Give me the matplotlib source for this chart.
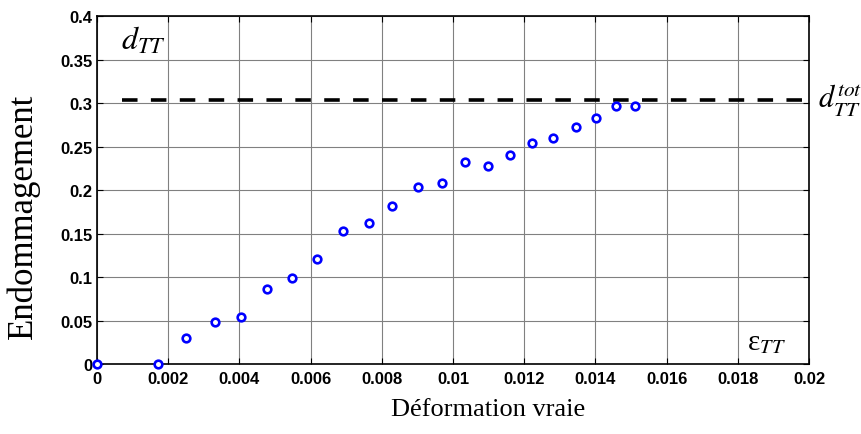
import matplotlib
matplotlib.use("Agg")
import matplotlib.pyplot as plt
from matplotlib.ticker import FuncFormatter

# Data
strain = [0.0, 0.00171, 0.0025, 0.0033, 0.00404, 0.00478, 0.00548, 0.00618,
          0.00692, 0.00764, 0.0083, 0.00902, 0.00968, 0.01033, 0.01097,
          0.01161, 0.01222, 0.01282, 0.01345, 0.01402, 0.01459, 0.0151]
damage = [0.0, 0.0, 0.030, 0.0487, 0.0544, 0.0862, 0.0992, 0.1203,
          0.1533, 0.1625, 0.1812, 0.2031, 0.2080, 0.2318, 0.2276,
          0.2406, 0.2536, 0.2601, 0.2724, 0.2831, 0.2961, 0.2961]
d_tot = 0.3034
d_tot_x = [0.0007, 0.02]
x_ticks = [0, 0.002, 0.004, 0.006, 0.008, 0.01, 0.012, 0.014, 0.016, 0.018, 0.02]
y_ticks = [0, 0.05, 0.1, 0.15, 0.2, 0.25, 0.3, 0.35, 0.4]

plt.rcParams['mathtext.fontset'] = 'stix'

fig = plt.figure(figsize=(8.61, 4.35), dpi=100)
ax = fig.add_axes([0.1127, 0.1609, 0.9396 - 0.1127, 0.9609 - 0.1609])

ax.plot(d_tot_x, [d_tot, d_tot], color='black', lw=2.6, dashes=(4.3, 3.7),
        zorder=3, clip_on=False)
ax.plot(strain, damage, linestyle='none', marker='o', markersize=5.5,
        markerfacecolor='white', markeredgecolor='#0000ff', markeredgewidth=1.9,
        zorder=4, clip_on=False)

ax.set_xlim(0, 0.02)
ax.set_ylim(0, 0.4)
ax.set_xticks(x_ticks)
ax.set_yticks(y_ticks)
fmt = FuncFormatter(lambda v, p: ('%g' % round(v, 6)))
ax.xaxis.set_major_formatter(fmt)
ax.yaxis.set_major_formatter(fmt)
ax.grid(True, color='#808080', lw=0.8)
ax.set_axisbelow(True)
ax.tick_params(direction='in', top=True, right=True, length=4, width=0.8,
               labelsize=12)
ax.tick_params(axis='x', pad=5)
ax.tick_params(axis='y', pad=3)
for lab in ax.get_xticklabels() + ax.get_yticklabels():
    lab.set_fontweight('bold')
    lab.set_fontfamily('Liberation Sans')
for s in ax.spines.values():
    s.set_linewidth(1.2)

ax.set_xlabel('Déformation vraie', family='Liberation Serif', fontsize=19)
ax.xaxis.set_label_coords(0.549, -0.098)
ax.set_ylabel('Endommagement', family='Liberation Serif', fontsize=25)
ax.yaxis.set_label_coords(-0.080, 0.428)

ax.text(0.033, 0.975, r'$d_{TT}$', transform=ax.transAxes, fontsize=23,
        va='top', ha='left')
ax.text(1.013, 0.76, r'$d_{TT}^{tot}$', transform=ax.transAxes, fontsize=22,
        va='center', ha='left')
ax.text(0.913, 0.025, r'ε$_{TT}$', transform=ax.transAxes, fontsize=21,
        family='Liberation Serif', va='bottom', ha='left')

fig.savefig('out.png', dpi=100)
